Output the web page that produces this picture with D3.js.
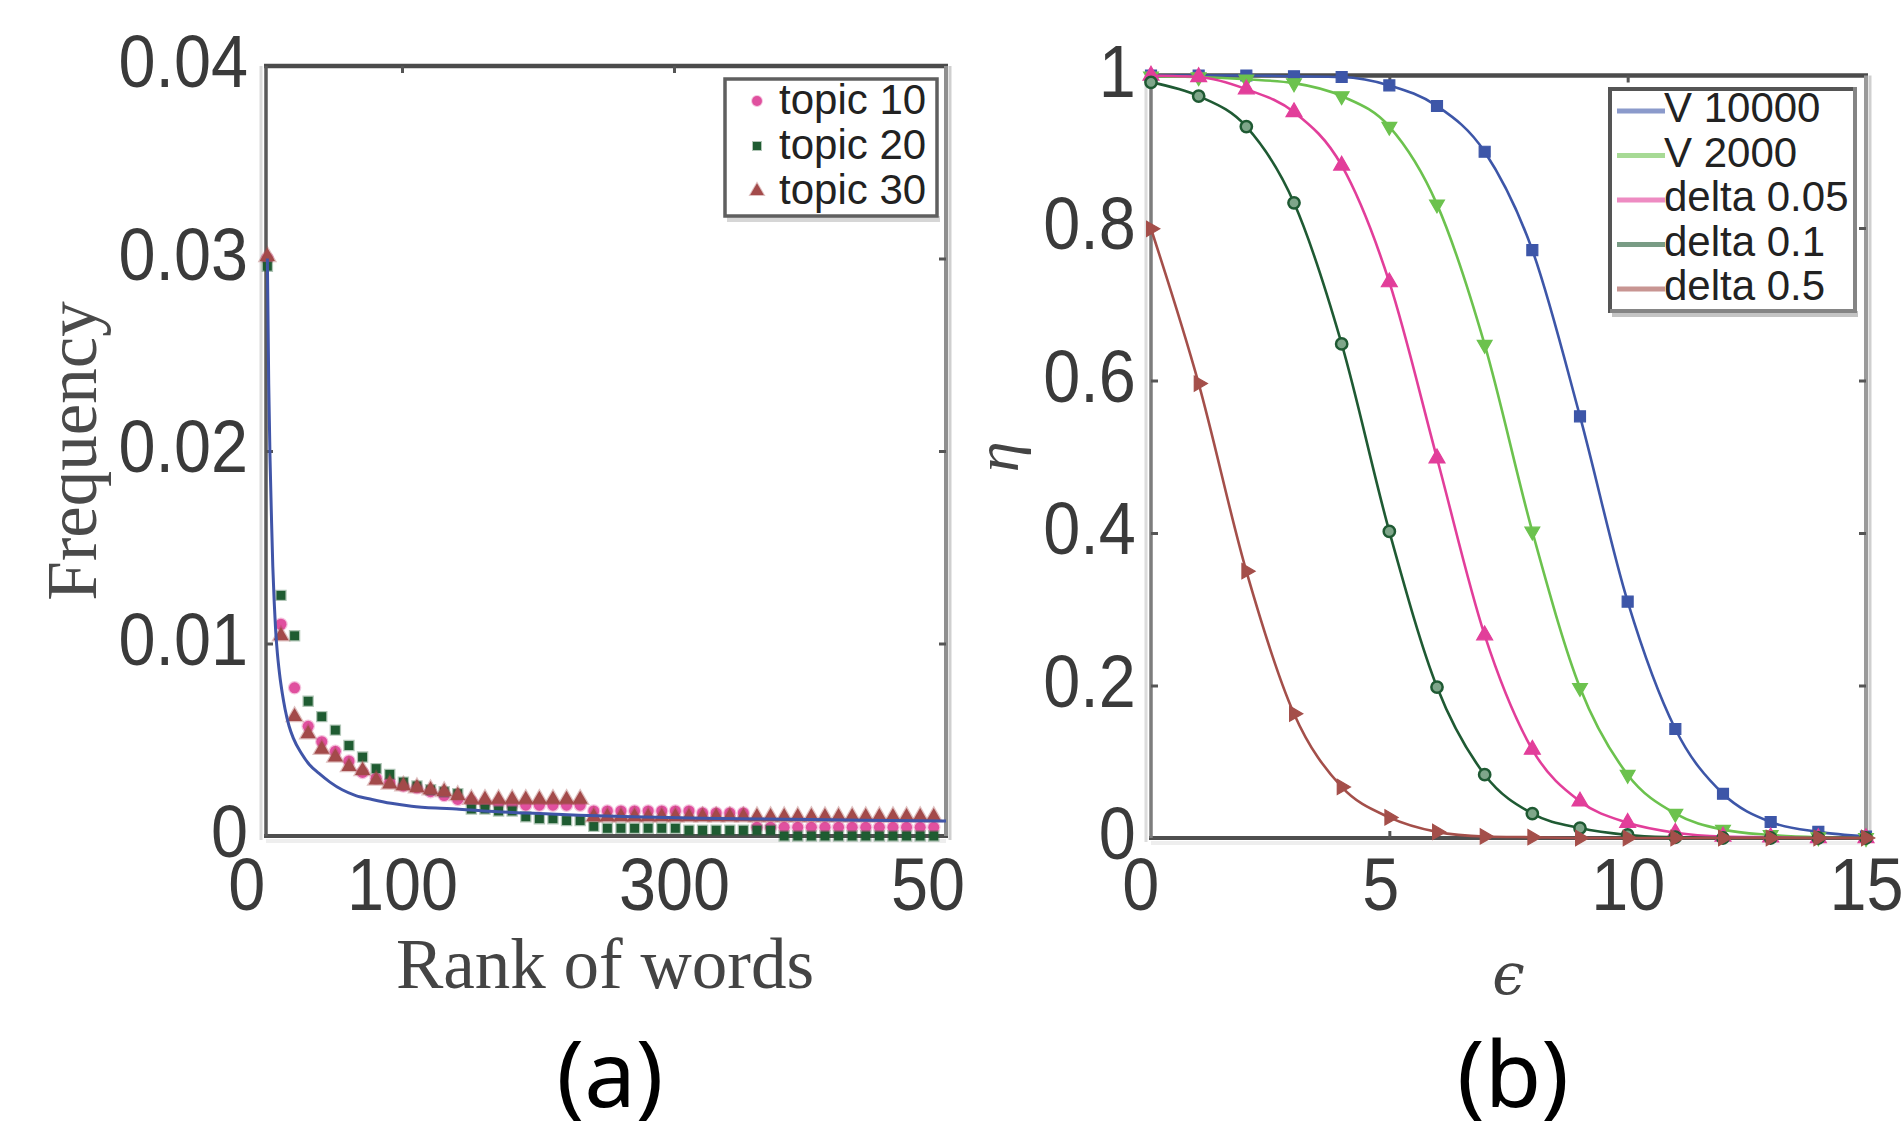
<!DOCTYPE html>
<html><head><meta charset="utf-8">
<script src="https://cdn.jsdelivr.net/npm/d3@7"></script>
<style>body{margin:0;background:#fff;overflow:hidden} svg{display:block}</style>
</head><body>
<svg id="c" width="1902" height="1133"></svg>
<script>
// ---------------- DATA: panel (a) ----------------
const rankTicks = [0, 100, 300, 500];
const rankTickLabels = ["0", "100", "300", "500"];
const freqTicks = [0, 0.01, 0.02, 0.03, 0.04];
const freqTickLabels = ["0", "0.01", "0.02", "0.03", "0.04"];
const topicNames = ["topic 10", "topic 20", "topic 30"];
const topicRanks = [1,11,21,31,41,51,61,71,81,91,101,111,121,131,141,151,161,171,181,191,201,211,221,231,241,251,261,271,281,291,301,311,321,331,341,351,361,371,381,391,401,411,421,431,441,451,461,471,481,491];
const topic10 = [0.0300,0.0110,0.0077,0.0057,0.0049,0.0044,0.0039,0.0033,0.0030,0.0028,
                 0.0026,0.0025,0.0023,0.0021,0.0019,0.0018,0.0017,0.0017,0.0016,0.0016,
                 0.0016,0.0016,0.0016,0.0016,0.0013,0.0013,0.0013,0.0013,0.0013,0.0013,
                 0.0013,0.0013,0.0012,0.0012,0.0012,0.0012,0.00045,0.00045,0.00045,0.00045,
                 0.00045,0.00045,0.00045,0.00045,0.00045,0.00045,0.00045,0.00045,0.00045,0.00045];
const topic20 = [0.0296,0.0125,0.0104,0.0070,0.0062,0.0055,0.0047,0.0041,0.0035,0.0032,
                 0.0028,0.0026,0.0024,0.0023,0.0022,0.0014,0.0014,0.0013,0.0013,0.0010,
                 0.0009,0.0009,0.0008,0.0008,0.0005,0.0004,0.0004,0.0004,0.0004,0.0004,
                 0.0004,0.0003,0.0003,0.0003,0.0003,0.0003,0.0003,0.0003,0,0,
                 0,0,0,0,0,0,0,0,0,0];
const topic30 = [0.0301,0.0104,0.0062,0.0053,0.0045,0.0041,0.0036,0.0034,0.0029,0.0027,
                 0.0026,0.0025,0.0024,0.0023,0.0021,0.0019,0.0019,0.0019,0.0019,0.0019,
                 0.0019,0.0019,0.0019,0.0019,0.0010,0.0010,0.0010,0.0010,0.0010,0.0010,
                 0.0010,0.0010,0.0010,0.0010,0.0010,0.0010,0.0010,0.0010,0.0010,0.0010,
                 0.0010,0.0010,0.0010,0.0010,0.0010,0.0010,0.0010,0.0010,0.0010,0.0010];
const fitRanks = [1,2,3,4,5,6,7,8,10,12,14,17,20,26,32,39,47,56,66,78,92,107,125,140,160,190,230,270,320,380,440,500];
const fitFreq  = [0.0300,0.0235,0.0195,0.0166,0.0140,0.0122,0.0108,0.0098,0.0084,0.0074,0.0066,0.0057,0.0051,0.0043,0.0037,0.00325,0.0028,0.0024,0.0021,0.0019,0.0017,0.00155,0.00145,0.0014,0.0013,0.0012,0.00108,0.00100,0.00092,0.00087,0.00082,0.00078];

// ---------------- DATA: panel (b) ----------------
const epsTicks = [0, 5, 10, 15];
const epsTickLabels = ["0", "5", "10", "15"];
const etaTicks = [0, 0.2, 0.4, 0.6, 0.8, 1];
const etaTickLabels = ["0", "0.2", "0.4", "0.6", "0.8", "1"];
const curveNames = ["V 10000", "V 2000", "delta 0.05", "delta 0.1", "delta 0.5"];
const epsValues = [0,1,2,3,4,5,6,7,8,9,10,11,12,13,14,15];
const v10000   = [1.000,1.000,1.000,0.999,0.998,0.987,0.960,0.900,0.771,0.553,0.310,0.143,0.058,0.021,0.008,0.002];
const v2000    = [0.999,0.998,0.995,0.990,0.973,0.933,0.831,0.647,0.402,0.197,0.083,0.032,0.011,0.004,0.001,0.000];
const delta005 = [1.000,0.998,0.982,0.952,0.882,0.729,0.498,0.266,0.116,0.048,0.020,0.007,0.002,0.001,0.000,0.000];
const delta01  = [0.991,0.973,0.933,0.833,0.648,0.402,0.198,0.083,0.032,0.013,0.004,0.001,0.000,0.000,0.000,0.000];
const delta05  = [0.799,0.596,0.350,0.163,0.067,0.027,0.008,0.002,0.001,0.000,0.000,0.000,0.000,0.000,0.000,0.000];

const captions = ["(a)", "(b)"];

// ---------------- STYLE ----------------
const topicColors = ["#e0509f", "#1f5c32", "#a34a4a"];
const curveColors = ["#3d56a8", "#6cc24e", "#e23e9a", "#1f5a33", "#a44f4a"];
const tickFont = "'Liberation Sans', Arial, sans-serif";
const serifFont = "'Liberation Serif', 'Times New Roman', serif";
const SX = 0.9; // horizontal squeeze of tick labels

const svg = d3.select("#c");
svg.append("rect").attr("width",1902).attr("height",1133).attr("fill","#fff");

const xA = d3.scaleLinear().domain([0, 500]).range([266, 946]);
const yA = d3.scaleLinear().domain([0, 0.04]).range([836, 66]);
const xB = d3.scaleLinear().domain([0, 15]).range([1151, 1866]);
const yB = d3.scaleLinear().domain([0, 1]).range([838, 75.5]);

svg.append("defs").append("clipPath").attr("id","clipA")
  .append("rect").attr("x",0).attr("y",0).attr("width",966).attr("height",1133);

function styleAxis(g) {
  g.select(".domain").remove();
  g.selectAll(".tick line").attr("stroke","#555").attr("stroke-width",3);
  g.selectAll(".tick text").attr("fill","#3a3a3a")
    .style("font-family", tickFont).style("font-size","74px")
    .attr("transform", `scale(${SX},1)`);
}

function frame(x, y, cols) {
  const [xl, xr] = x.range(), [yb, yt] = y.range();
  const g = svg.append("g");
  g.append("line").attr("x1",xl-5).attr("x2",xl-5).attr("y1",yt).attr("y2",yb+4).attr("stroke","#dcdcdc").attr("stroke-width",3);
  g.append("line").attr("x1",xl).attr("x2",xr).attr("y1",yb+5).attr("y2",yb+5).attr("stroke","#eeeeee").attr("stroke-width",4);
  g.append("line").attr("x1",xr+4).attr("x2",xr+4).attr("y1",yt).attr("y2",yb+4).attr("stroke","#cfcfcf").attr("stroke-width",3);
  g.append("line").attr("x1",xl-2).attr("x2",xr+2).attr("y1",yt).attr("y2",yt).attr("stroke",cols.top).attr("stroke-width",4.5);
  g.append("line").attr("x1",xl-2).attr("x2",xr+2).attr("y1",yb).attr("y2",yb).attr("stroke",cols.bottom).attr("stroke-width",4);
  g.append("line").attr("x1",xl).attr("x2",xl).attr("y1",yt).attr("y2",yb).attr("stroke",cols.left).attr("stroke-width",3.5);
  g.append("line").attr("x1",xr).attr("x2",xr).attr("y1",yt).attr("y2",yb).attr("stroke",cols.right).attr("stroke-width",4);
}

// ================= PANEL A =================
frame(xA, yA, {top:"#4b4b4b", bottom:"#4f4f4f", left:"#5a5a5a", right:"#8f8f8f"});

const axA_b = svg.append("g").attr("transform",`translate(0,${yA(0)})`).attr("clip-path","url(#clipA)")
  .call(d3.axisBottom(xA).tickValues(rankTicks).tickFormat((d,i)=>rankTickLabels[i]).tickSize(-7).tickPadding(21.5));
styleAxis(axA_b);
axA_b.selectAll(".tick text").filter(d=>d===0).attr("dx",-22);
axA_b.selectAll(".tick line").filter(d=>d===0 || d===500).remove();

const axA_t = svg.append("g").attr("transform",`translate(0,${yA(0.04)})`)
  .call(d3.axisTop(xA).tickValues(rankTicks).tickFormat("").tickSize(-7));
styleAxis(axA_t);
axA_t.selectAll(".tick line").filter(d=>d===0 || d===500).remove();

const axA_l = svg.append("g").attr("transform",`translate(${xA(0)},0)`)
  .call(d3.axisLeft(yA).tickValues(freqTicks).tickFormat((d,i)=>freqTickLabels[i]).tickSize(-7).tickPadding(20));
styleAxis(axA_l);
axA_l.selectAll(".tick text").attr("dy","0.28em");
axA_l.selectAll(".tick line").filter(d=>d===0 || d===0.04).remove();

const axA_r = svg.append("g").attr("transform",`translate(${xA(500)},0)`)
  .call(d3.axisRight(yA).tickValues(freqTicks).tickFormat("").tickSize(-7));
styleAxis(axA_r);
axA_r.selectAll(".tick line").filter(d=>d===0 || d===0.04).remove();

// axis titles A
svg.append("text").attr("x", (xA(0)+xA(500))/2 - 1).attr("y", 988)
  .attr("text-anchor","middle").attr("fill","#444")
  .style("font-family", serifFont).style("font-size","71px").text("Rank of words");
svg.append("text").attr("transform",`translate(96,${(yA(0)+yA(0.04))/2}) rotate(-90)`)
  .attr("text-anchor","middle").attr("fill","#4a4a4a")
  .style("font-family", serifFont).style("font-size","71px").text("Frequency");

// markers A
const topicData = [topic10, topic20, topic30];
const topicSymbols = [d3.symbolCircle, d3.symbolSquare, d3.symbolTriangle];
const topicSizes = [95, 80, 100];
const gA = svg.append("g");
topicData.forEach((vals, si) => {
  const sym = d3.symbol().type(topicSymbols[si]).size(topicSizes[si]);
  gA.append("g").selectAll("path").data(topicRanks.map((r,i)=>[r, vals[i]])).join("path")
    .attr("transform", d => `translate(${xA(d[0])},${yA(d[1])})`)
    .attr("d", sym).attr("fill", topicColors[si]).attr("stroke", topicColors[si])
    .attr("stroke-opacity",0.35).attr("stroke-width",2.5);
});
// fitted curve
gA.append("path").datum(fitRanks.map((r,i)=>[r, fitFreq[i]]))
  .attr("d", d3.line().x(d=>xA(d[0])).y(d=>yA(d[1])).curve(d3.curveMonotoneX))
  .attr("fill","none").attr("stroke","#4055a8").attr("stroke-width",3);

// legend A
const legA = svg.append("g");
legA.append("rect").attr("x",727).attr("y",216).attr("width",213).attr("height",6).attr("fill","#d6d6d6");
legA.append("rect").attr("x",725).attr("y",79).attr("width",212).attr("height",137)
  .attr("fill","#fff").attr("stroke","#5f5f5f").attr("stroke-width",3.5);
topicNames.forEach((n, i) => {
  const cy = 101 + i*45;
  legA.append("path").attr("transform",`translate(757,${cy})`)
    .attr("d", d3.symbol().type(topicSymbols[i]).size(topicSizes[i]*0.8)())
    .attr("fill", topicColors[i]).attr("stroke", topicColors[i]).attr("stroke-opacity",0.35).attr("stroke-width",2);
  legA.append("text").attr("x",779).attr("y",cy+13).attr("fill","#222")
    .style("font-family", tickFont).style("font-size","42px").text(n);
});

// ================= PANEL B =================
frame(xB, yB, {top:"#4b4b4b", bottom:"#4f4f4f", left:"#7d7d7d", right:"#9a9a9a"});

const axB_b = svg.append("g").attr("transform",`translate(0,${yB(0)})`)
  .call(d3.axisBottom(xB).tickValues(epsTicks).tickFormat((d,i)=>epsTickLabels[i]).tickSize(-7).tickPadding(19.5));
styleAxis(axB_b);
axB_b.selectAll(".tick text").filter(d=>d===0).attr("dx",-12);
axB_b.selectAll(".tick text").filter(d=>d===5).attr("dx",-10);
axB_b.selectAll(".tick line").filter(d=>d===0 || d===15).remove();

const axB_t = svg.append("g").attr("transform",`translate(0,${yB(1)})`)
  .call(d3.axisTop(xB).tickValues(epsTicks).tickFormat("").tickSize(-7));
styleAxis(axB_t);
axB_t.selectAll(".tick line").filter(d=>d===0 || d===15).remove();

const axB_l = svg.append("g").attr("transform",`translate(${xB(0)},0)`)
  .call(d3.axisLeft(yB).tickValues(etaTicks).tickFormat((d,i)=>etaTickLabels[i]).tickSize(-7).tickPadding(17));
styleAxis(axB_l);
axB_l.selectAll(".tick text").attr("dy","0.28em");
axB_l.selectAll(".tick line").filter(d=>d===0 || d===1).remove();

const axB_r = svg.append("g").attr("transform",`translate(${xB(15)},0)`)
  .call(d3.axisRight(yB).tickValues(etaTicks).tickFormat("").tickSize(-7));
styleAxis(axB_r);
axB_r.selectAll(".tick line").filter(d=>d===0 || d===1).remove();

// axis titles B
svg.append("text").attr("x", (xB(0)+xB(15))/2).attr("y", 994)
  .attr("text-anchor","middle").attr("fill","#444").attr("font-style","italic")
  .style("font-family", "'DejaVu Serif', 'Liberation Serif', serif").style("font-size","58px").text("\u03F5");
svg.append("text").attr("transform",`translate(1018,${(yB(0)+yB(1))/2}) rotate(-90)`)
  .attr("text-anchor","middle").attr("fill","#444").attr("font-style","italic")
  .style("font-family", serifFont).style("font-size","62px").text("\u03B7");

// curves B
const curveData = [v10000, v2000, delta005, delta01, delta05];
const curveSymbols = [d3.symbolSquare, d3.symbolTriangle, d3.symbolTriangle, d3.symbolCircle, d3.symbolTriangle];
const curveRot = [0, 180, 0, 0, 90];
const curveSizes = [120, 95, 110, 100, 100];
const gB = svg.append("g");
curveData.forEach((vals, si) => {
  const pts = epsValues.map((e,i)=>[e, vals[i]]);
  gB.append("path").datum(pts)
    .attr("d", d3.line().x(d=>xB(d[0])).y(d=>yB(d[1])).curve(d3.curveMonotoneX))
    .attr("fill","none").attr("stroke", curveColors[si]).attr("stroke-width",2.6);
  const sym = d3.symbol().type(curveSymbols[si]).size(curveSizes[si]);
  gB.append("g").selectAll("path").data(pts).join("path")
    .attr("transform", d => `translate(${xB(d[0])},${yB(d[1])}) rotate(${curveRot[si]})`)
    .attr("d", sym)
    .attr("fill", si===3 ? "#7fa68a" : curveColors[si])
    .attr("stroke", curveColors[si]).attr("stroke-width", si===3 ? 2.5 : 1.2);
});

// legend B
const legB = svg.append("g");
legB.append("rect").attr("x",1612).attr("y",311).attr("width",246).attr("height",6).attr("fill","#c4c4c4");
legB.append("rect").attr("x",1610).attr("y",89).attr("width",245).attr("height",222).attr("fill","#fff");
legB.append("line").attr("x1",1610).attr("x2",1855).attr("y1",89).attr("y2",89).attr("stroke","#555").attr("stroke-width",4);
legB.append("line").attr("x1",1610).attr("x2",1610).attr("y1",87).attr("y2",313).attr("stroke","#555").attr("stroke-width",4);
legB.append("line").attr("x1",1610).attr("x2",1855).attr("y1",311).attr("y2",311).attr("stroke","#858585").attr("stroke-width",4);
legB.append("line").attr("x1",1855).attr("x2",1855).attr("y1",87).attr("y2",313).attr("stroke","#858585").attr("stroke-width",4);
curveNames.forEach((n, i) => {
  const base = 122 + i*44.5;
  legB.append("line").attr("x1",1617).attr("x2",1665).attr("y1",base-11).attr("y2",base-11)
    .attr("stroke", curveColors[i]).attr("stroke-opacity",0.6).attr("stroke-width",5);
  legB.append("text").attr("x",1664).attr("y",base).attr("fill","#222")
    .style("font-family", tickFont).style("font-size","42px").text(n);
});

// captions
captions.forEach((c, i) => {
  svg.append("text").attr("x", i === 0 ? 610 : 1513).attr("y", 1107).attr("text-anchor","middle").attr("fill","#000")
    .style("font-family","'Noto Sans', 'Open Sans', sans-serif").style("font-size","92px").text(c);
});
</script>
</body></html>
